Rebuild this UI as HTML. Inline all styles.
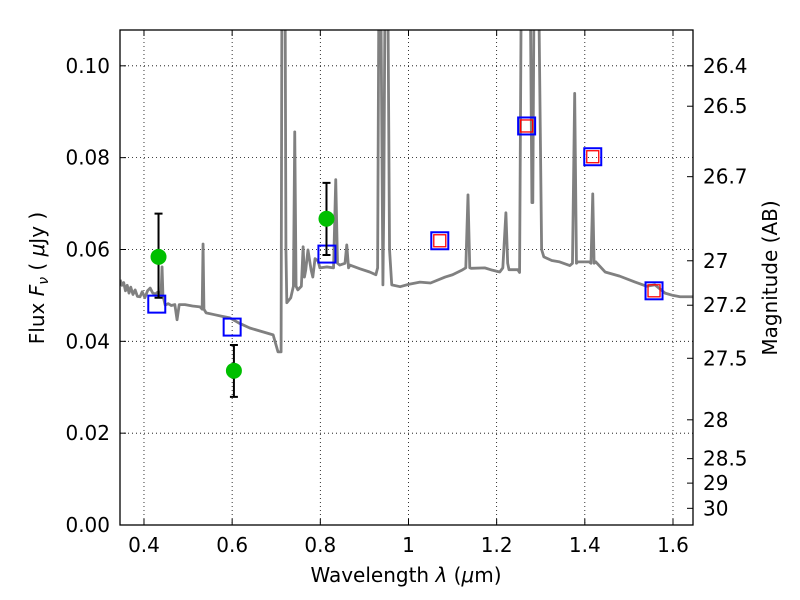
<!DOCTYPE html>
<html><head><meta charset="utf-8"><style>
body{margin:0;background:#fff;}
svg{display:block;font-family:"DejaVu Sans","Liberation Sans",sans-serif;}
</style></head><body>
<svg id="chart" width="800" height="600">
<g id="grid"></g>
<g id="plot"></g>
<g id="axes"></g>
<text x="406" y="582" font-size="20" text-anchor="middle">Wavelength  <tspan font-style="italic">λ</tspan> (<tspan font-style="italic">μ</tspan>m)</text>
<text transform="translate(44,278) rotate(-90)" font-size="20" text-anchor="middle">Flux  <tspan font-style="italic">F<tspan font-size="14" dy="4">ν</tspan></tspan><tspan dy="-4">  ( </tspan><tspan font-style="italic">μ</tspan>Jy )</text>
<text transform="translate(777,278) rotate(-90)" font-size="20" text-anchor="middle">Magnitude (AB)</text>
</svg>
<script>
const specLam=[0.346,0.350,0.354,0.358,0.362,0.366,0.370,0.375,0.380,0.385,0.391,0.396,0.402,0.408,0.414,0.420,0.426,0.431,0.436,0.439,0.441,0.443,0.448,0.455,0.462,0.470,0.475,0.480,0.493,0.510,0.527,0.532,0.534,0.536,0.541,0.560,0.575,0.595,0.615,0.640,0.665,0.693,0.704,0.711,0.713,0.716,0.720,0.722,0.724,0.733,0.739,0.742,0.745,0.749,0.757,0.761,0.764,0.767,0.772,0.779,0.783,0.788,0.795,0.799,0.815,0.830,0.835,0.839,0.844,0.856,0.860,0.864,0.867,0.890,0.912,0.926,0.930,0.933,0.937,0.942,0.944,0.947,0.950,0.953,0.957,0.962,0.981,1.000,1.026,1.050,1.083,1.100,1.123,1.130,1.135,1.139,1.142,1.173,1.190,1.207,1.214,1.221,1.225,1.228,1.248,1.252,1.256,1.262,1.270,1.276,1.280,1.282,1.285,1.289,1.295,1.302,1.307,1.325,1.343,1.366,1.372,1.377,1.381,1.384,1.410,1.414,1.418,1.421,1.425,1.446,1.479,1.514,1.540,1.559,1.582,1.600,1.616,1.645];
const specFlux=[0.0534,0.0522,0.0528,0.0510,0.0522,0.0505,0.0518,0.0502,0.0512,0.0498,0.0497,0.0508,0.0495,0.0510,0.0516,0.0505,0.0503,0.0507,0.0500,0.0510,0.0562,0.0500,0.0479,0.0482,0.0478,0.0480,0.0447,0.0480,0.0480,0.0477,0.0475,0.0470,0.0612,0.0470,0.0462,0.0458,0.0455,0.0451,0.0440,0.0429,0.0422,0.0414,0.0377,0.0377,0.12,0.12,0.12,0.06,0.0484,0.0495,0.052,0.0856,0.052,0.0512,0.052,0.0606,0.054,0.0556,0.0599,0.0556,0.054,0.058,0.0575,0.056,0.0562,0.056,0.0752,0.057,0.0566,0.057,0.061,0.056,0.0566,0.0558,0.0551,0.0545,0.056,0.12,0.12,0.0523,0.07,0.12,0.12,0.12,0.06,0.0523,0.0519,0.0524,0.0529,0.0527,0.054,0.0545,0.0556,0.056,0.0719,0.056,0.0559,0.056,0.0555,0.0551,0.056,0.068,0.057,0.0556,0.0556,0.055,0.12,0.12,0.12,0.12,0.0702,0.0702,0.12,0.12,0.12,0.06,0.0584,0.0576,0.0573,0.0565,0.057,0.094,0.057,0.0573,0.0573,0.057,0.0721,0.057,0.0573,0.0551,0.0542,0.0529,0.0520,0.0523,0.0505,0.0500,0.0497,0.0497];
const boxLam=[0.429,0.600,0.815,1.071,1.268,1.418,1.557];
const boxFlux=[0.0481,0.0431,0.059,0.0619,0.0869,0.0802,0.051];
const boxInner=[false,false,false,true,true,true,true];
const ptLam=[0.433,0.604,0.814];
const ptFlux=[0.0584,0.0336,0.0667];
const ptErrLo=[0.0495,0.0279,0.0588];
const ptErrHi=[0.0678,0.0392,0.0745];
const xTicks=[0.4,0.6,0.8,1.0,1.2,1.4,1.6];
const xTickLabels=["0.4","0.6","0.8","1","1.2","1.4","1.6"];
const yTicks=[0,0.02,0.04,0.06,0.08,0.10];
const yTickLabels=["0.00","0.02","0.04","0.06","0.08","0.10"];
const magTicks=[26.4,26.5,26.7,27,27.2,27.5,28,28.5,29,30];
const magLabels=["26.4","26.5","26.7","27","27.2","27.5","28","28.5","29","30"];

const L=120,R=693,T=30,B=525;
const xMin=0.3456,xMax=1.6454,yMin=0,yMax=0.1078;
const X=v=>L+(v-xMin)/(xMax-xMin)*(R-L);
const Y=v=>B-(v-yMin)/(yMax-yMin)*(B-T);
const NS="http://www.w3.org/2000/svg";
function mk(tag,attrs,parent){const e=document.createElementNS(NS,tag);for(const k in attrs)e.setAttribute(k,attrs[k]);parent.appendChild(e);return e;}
const grid=document.getElementById('grid'),plot=document.getElementById('plot'),axes=document.getElementById('axes');
const chart=document.getElementById('chart');
const defs=mk('defs',{},chart);
const cp=mk('clipPath',{id:'clip'},defs);mk('rect',{x:L,y:T,width:R-L,height:B-T},cp);
plot.setAttribute('clip-path','url(#clip)');

xTicks.forEach((t,i)=>{
  const x=X(t);
  const g=mk('line',{x1:x,x2:x,y1:T,y2:B,stroke:'#000','stroke-width':0.8,'stroke-dasharray':'1,3'},grid);
  
  
  mk('line',{x1:x,x2:x,y1:B,y2:B-6,stroke:'#000'},axes);
  mk('line',{x1:x,x2:x,y1:T,y2:T+6,stroke:'#000'},axes);
  const tx=mk('text',{x:x,y:B+27,'font-size':20,'text-anchor':'middle'},axes);
  tx.textContent=xTickLabels[i];
  
  
});
yTicks.forEach((t,i)=>{
  const y=Y(t);
  const g=mk('line',{x1:L,x2:R,y1:y,y2:y,stroke:'#000','stroke-width':0.8,'stroke-dasharray':'1,3'},grid);
  
  
  mk('line',{x1:L,x2:L+6,y1:y,y2:y,stroke:'#000'},axes);
  const tx=mk('text',{x:L-10,y:y+7,'font-size':20,'text-anchor':'end'},axes);
  tx.textContent=yTickLabels[i];
  
  
});
magTicks.forEach((m,i)=>{
  const y=Y(Math.pow(10,(23.9-m)/2.5));
  mk('line',{x1:R,x2:R-6,y1:y,y2:y,stroke:'#000'},axes);
  const tx=mk('text',{x:R+10,y:y+7,'font-size':20},axes);
  tx.textContent=magLabels[i];
  
  
});
const sp=mk('polyline',{points:specLam.map((l,i)=>X(l)+','+Y(specFlux[i])).join(' '),fill:'none',stroke:'#808080','stroke-width':2.8,'stroke-linejoin':'round'},plot);


boxLam.forEach((l,i)=>{
  const x=X(l),y=Y(boxFlux[i]);
  const r=mk('rect',{x:x-8.5,y:y-8.5,width:17,height:17,fill:'none',stroke:'#0000ff','stroke-width':2},plot);
  
  
  if(boxInner[i]){
    const r2=mk('rect',{x:x-6,y:y-6,width:12,height:12,fill:'none',stroke:'#ff0000','stroke-width':1.3},plot);
    
    
  }
});
ptLam.forEach((l,i)=>{
  const x=X(l);
  const e=mk('path',{d:`M${x},${Y(ptErrLo[i])}V${Y(ptErrHi[i])}M${x-4},${Y(ptErrLo[i])}h8M${x-4},${Y(ptErrHi[i])}h8`,stroke:'#000','stroke-width':2,fill:'none'},plot);
  
  
  const c=mk('circle',{cx:x,cy:Y(ptFlux[i]),r:8,fill:'#00bf00'},plot);
  
  
});
const fr=mk('rect',{x:L,y:T,width:R-L,height:B-T,fill:'none',stroke:'#000','stroke-width':1.3},axes);


</script>
</body></html>
